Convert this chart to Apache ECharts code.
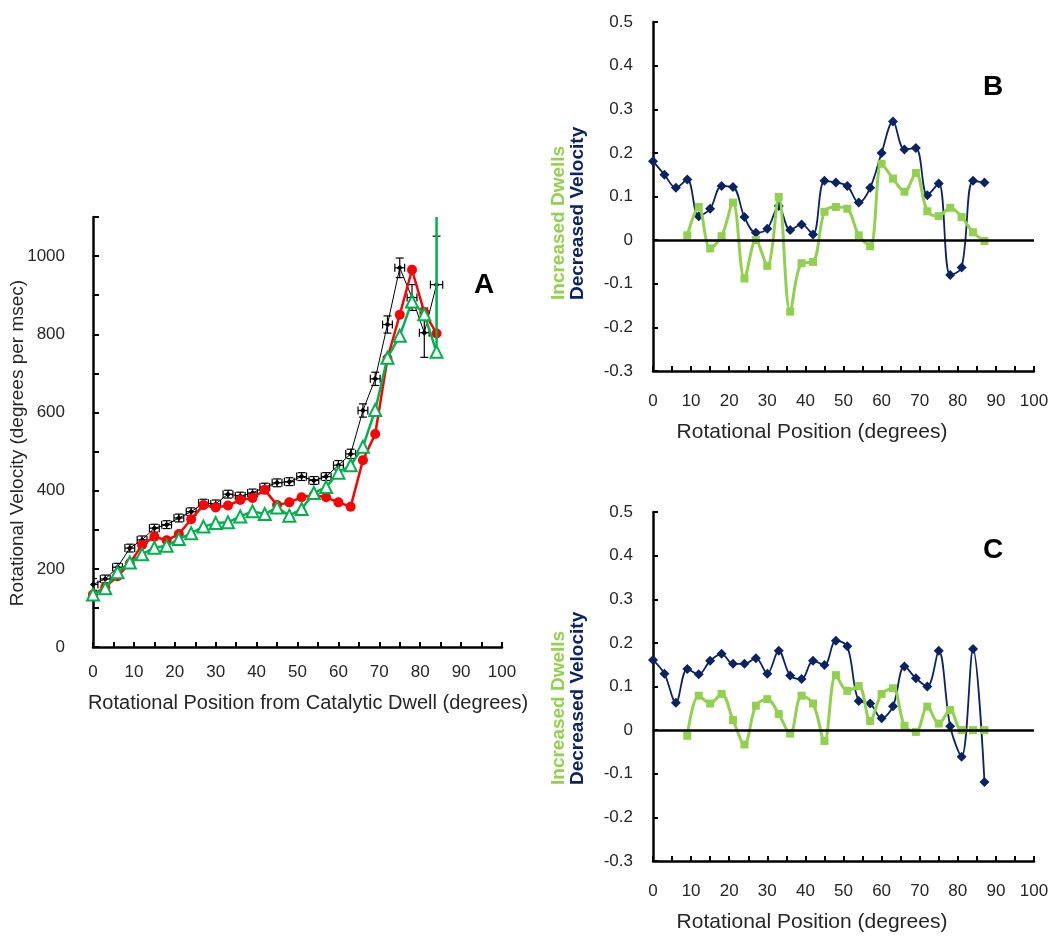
<!DOCTYPE html>
<html><head><meta charset="utf-8">
<script src="https://cdn.jsdelivr.net/npm/echarts@6/dist/echarts.min.js"></script>
<style>html,body{margin:0;padding:0;background:#fff}#c{width:1052px;height:941px}</style>
</head><body><div id="c"></div>
<script>
// ---- Panel A data ----
const posA = [0,3,6,9,12,15,18,21,24,27,30,33,36,39,42,45,48,51,54,57,60,63,66,69,72,75,78,81,84];
const blackVel = [160,174,204,253,274,304,313,330,346,368,366,391,386,394,409,420,423,436,426,436,465,494,605,686,825,970,894,804,927];
const blackYErr = [15,10,10,10,10,10,10,10,10,10,10,10,10,10,10,10,10,10,10,10,12,12,17,17,22,25,33,63,124];
const blackXErr = [1.2,1.2,1.2,1.2,1.2,1.2,1.2,1.2,1.2,1.2,1.2,1.2,1.2,1.2,1.2,1.2,1.2,1.2,1.2,1.2,1.2,1.2,1.2,1.2,1.2,1.2,1.2,1.2,1.5];
const redVel = [134,153,181,214,261,282,273,289,327,363,357,362,376,381,402,363,370,383,389,383,370,359,478,545,738,850,965,856,802];
const greenVel = [134,150,191,216,237,254,259,276,291,308,317,319,334,347,340,357,336,353,394,409,446,465,512,606,740,796,884,851,755];
const greenErrPlus = [0,0,0,0,0,0,0,0,0,0,0,0,0,0,0,0,0,0,0,0,0,0,0,0,0,0,0,0,400];
const yTicksA = [0,200,400,600,800,1000];
const xTicks = [0,10,20,30,40,50,60,70,80,90,100];

// ---- Panels B and C data ----
const posBC = [0,3,6,9,12,15,18,21,24,27,30,33,36,39,42,45,48,51,54,57,60,63,66,69,72,75,78,81,84,87];
const bVelocity = [0.181,0.150,0.120,0.139,0.055,0.072,0.124,0.122,0.053,0.017,0.026,0.078,0.023,0.036,0.013,0.136,0.132,0.124,0.086,0.120,0.200,0.272,0.208,0.211,0.103,0.130,-0.080,-0.063,0.136,0.132];
const bDwells = [null,null,null,0.011,0.076,-0.019,0.009,0.086,-0.088,0.000,-0.059,0.099,-0.164,-0.053,-0.050,0.065,0.076,0.072,0.011,-0.014,0.175,0.141,0.111,0.154,0.066,0.055,0.074,0.053,0.018,-0.002];
const cVelocity = [0.161,0.129,0.063,0.140,0.128,0.159,0.175,0.152,0.152,0.165,0.129,0.182,0.125,0.117,0.159,0.149,0.205,0.192,0.067,0.061,0.027,0.055,0.146,0.119,0.100,0.182,0.009,-0.061,0.186,-0.119];
const cDwells = [null,null,null,-0.013,0.079,0.061,0.083,0.023,-0.033,0.056,0.071,0.037,-0.008,0.079,0.061,-0.025,0.126,0.090,0.101,0.021,0.083,0.096,0.010,-0.004,0.054,0.015,0.046,0.000,0.000,0.000];

const FONT = 'Liberation Sans';
const TXT = '#262626';
const NAVY = '#0B2461';
const LGREEN = '#92D050';

const pairs = (xs, ys) => xs.map((x,i) => [x, ys[i]]);

function xAxisDef(gi){
  return {
    type:'value', gridIndex:gi, min:0, max:100, interval:5,
    axisLine:{onZero:false, lineStyle:{color:'#000', width:2.5}},
    axisTick:{inside:true, length:5, lineStyle:{color:'#000', width:2}},
    splitLine:{show:false},
    axisLabel:{color:TXT, fontFamily:FONT, fontSize:17, margin: gi===0?17:22,
      formatter: v => xTicks.includes(v) ? String(v) : ''}
  };
}
function yAxisBC(gi){
  return {
    type:'value', gridIndex:gi, min:-0.3, max:0.5, interval:0.1,
    axisLine:{onZero:false, lineStyle:{color:'#000', width:2.5}},
    axisTick:{inside:true, length:5, lineStyle:{color:'#000', width:2}},
    splitLine:{show:false},
    axisLabel:{color:TXT, fontFamily:FONT, fontSize:17, margin:20,
      formatter: v => { const r = Math.round(v*10)/10; return r===0 ? '0' : r.toFixed(1); }}
  };
}

function errRender(params, api){
  const x = api.value(0), y = api.value(1), ex = api.value(2), eLo = api.value(3), eHi = api.value(4);
  const c = api.coord([x,y]);
  const st = {stroke: api.value(5) ? '#00B050' : '#000', lineWidth: api.value(5) ? 2.5 : 1.2};
  const ch = [];
  const cap = 4;
  if (eHi > 0 || eLo > 0){
    const t = api.coord([x, y+eHi]); const b = api.coord([x, y-eLo]);
    ch.push({type:'line', shape:{x1:c[0],y1:t[1],x2:c[0],y2:b[1]}, style:st});
    if (!api.value(5)) {
      ch.push({type:'line', shape:{x1:c[0]-cap,y1:t[1],x2:c[0]+cap,y2:t[1]}, style:st});
      ch.push({type:'line', shape:{x1:c[0]-cap,y1:b[1],x2:c[0]+cap,y2:b[1]}, style:st});
    }
  }
  if (ex > 0){
    const l = api.coord([x-ex, y]); const r = api.coord([x+ex, y]);
    ch.push({type:'line', shape:{x1:l[0],y1:c[1],x2:r[0],y2:c[1]}, style:st});
    ch.push({type:'line', shape:{x1:l[0],y1:c[1]-cap,x2:l[0],y2:c[1]+cap}, style:st});
    ch.push({type:'line', shape:{x1:r[0],y1:c[1]-cap,x2:r[0],y2:c[1]+cap}, style:st});
  }
  return {type:'group', children:ch};
}

const blackErrData = posA.map((x,i) => [x, blackVel[i], blackXErr[i], blackYErr[i], blackYErr[i], 0]);
const greenErrData = posA.map((x,i) => [x, greenVel[i], 0, 0, greenErrPlus[i], 1]).filter(d => d[4] > 0);

const zeroLine = {silent:true, symbol:'none', label:{show:false},
  lineStyle:{color:'#000', width:2.5, type:'solid'}, data:[{yAxis:0}]};

function text(x, y, str, opts){
  return {type:'text', x:x, y:y, silent:true,
    style:Object.assign({text:str, font:'16px ' + FONT, fill:TXT, textAlign:'center', textVerticalAlign:'middle'}, opts||{})};
}
function vtext(x, y, str, opts){
  return {type:'text', x:x, y:y, rotation:Math.PI/2, silent:true,
    style:Object.assign({text:str, font:'16px ' + FONT, fill:TXT, textAlign:'center', textVerticalAlign:'middle'}, opts||{})};
}

const option = {
  backgroundColor:'#fff',
  animation:false,
  grid:[
    {left:93, top:217, width:409, height:430},
    {left:653, top:22, width:381, height:349},
    {left:653, top:512, width:381, height:349}
  ],
  xAxis:[xAxisDef(0), xAxisDef(1), xAxisDef(2)],
  yAxis:[
    {type:'value', gridIndex:0, min:0, max:1100, interval:100,
      axisLine:{onZero:false, lineStyle:{color:'#000', width:2.5}},
      axisTick:{inside:true, length:6, lineStyle:{color:'#000', width:2}},
      splitLine:{show:false},
      axisLabel:{color:TXT, fontFamily:FONT, fontSize:17, margin:28,
        formatter: v => yTicksA.includes(v) ? String(v) : ''}},
    yAxisBC(1), yAxisBC(2)
  ],
  series:[
    {type:'line', xAxisIndex:0, yAxisIndex:0, data:pairs(posA, blackVel), z:2,
      lineStyle:{color:'#000', width:1}, symbol:'diamond', symbolSize:6,
      itemStyle:{color:'#000'}},
    {type:'custom', xAxisIndex:0, yAxisIndex:0, data:blackErrData, renderItem:errRender, z:3, clip:true},
    {type:'line', xAxisIndex:0, yAxisIndex:0, data:pairs(posA, redVel), z:4,
      lineStyle:{color:'#FF0000', width:2.5}, symbol:'circle', symbolSize:10,
      itemStyle:{color:'#FF0000'}},
    {type:'custom', xAxisIndex:0, yAxisIndex:0, data:greenErrData, renderItem:errRender, z:5, clip:true},
    {type:'line', xAxisIndex:0, yAxisIndex:0, data:pairs(posA, greenVel), z:6,
      lineStyle:{color:'#00B050', width:2.5}, symbol:'triangle', symbolSize:12,
      itemStyle:{color:'#fff', borderColor:'#00B050', borderWidth:2}},

    {type:'line', xAxisIndex:1, yAxisIndex:1, data:pairs(posBC, bVelocity), smooth:0.35, z:3,
      lineStyle:{color:NAVY, width:1.8}, symbol:'diamond', symbolSize:10,
      itemStyle:{color:NAVY}, markLine:zeroLine},
    {type:'line', xAxisIndex:1, yAxisIndex:1, data:pairs(posBC, bDwells), smooth:0.35, z:4,
      lineStyle:{color:LGREEN, width:3}, symbol:'rect', symbolSize:8,
      itemStyle:{color:LGREEN}},

    {type:'line', xAxisIndex:2, yAxisIndex:2, data:pairs(posBC, cVelocity), smooth:0.35, z:3,
      lineStyle:{color:NAVY, width:1.8}, symbol:'diamond', symbolSize:10,
      itemStyle:{color:NAVY}, markLine:zeroLine},
    {type:'line', xAxisIndex:2, yAxisIndex:2, data:pairs(posBC, cDwells), smooth:0.35, z:4,
      lineStyle:{color:LGREEN, width:3}, symbol:'rect', symbolSize:8,
      itemStyle:{color:LGREEN}}
  ],
  graphic:[
    vtext(18, 443, 'Rotational Velocity (degrees per msec)', {font:'19px ' + FONT}),
    text(308, 703, 'Rotational Position from Catalytic Dwell (degrees)', {font:'20px ' + FONT}),
    text(812, 432, 'Rotational Position (degrees)', {font:'21px ' + FONT}),
    text(812, 922, 'Rotational Position (degrees)', {font:'21px ' + FONT}),
    text(484, 285, 'A', {font:'bold 28px ' + FONT, fill:'#000'}),
    text(993, 87, 'B', {font:'bold 28px ' + FONT, fill:'#000'}),
    text(993, 550, 'C', {font:'bold 28px ' + FONT, fill:'#000'}),
    vtext(559, 300, 'Increased Dwells', {font:'bold 19px ' + FONT, fill:LGREEN, textAlign:'left'}),
    vtext(578, 300, 'Decreased Velocity', {font:'bold 19px ' + FONT, fill:NAVY, textAlign:'left'}),
    vtext(559, 785, 'Increased Dwells', {font:'bold 19px ' + FONT, fill:LGREEN, textAlign:'left'}),
    vtext(578, 785, 'Decreased Velocity', {font:'bold 19px ' + FONT, fill:NAVY, textAlign:'left'})
  ]
};
const chart = echarts.init(document.getElementById('c'), null, {renderer:'canvas'});
chart.setOption(option);
</script>
</body></html>
